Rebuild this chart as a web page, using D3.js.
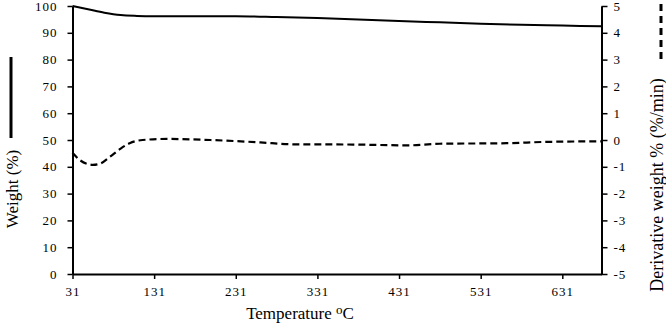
<!DOCTYPE html>
<html><head><meta charset="utf-8">
<script src="https://cdn.jsdelivr.net/npm/d3@7/dist/d3.min.js"></script>
<style>body{margin:0;background:#fff}svg{display:block}text{font-family:"Liberation Serif","Times New Roman",serif;fill:#000}</style>
</head><body><svg id="c" width="666" height="324"></svg>
<script>
const weightTemps = [31, 50, 70, 90, 110, 131, 181, 231, 281, 331, 381, 431, 481, 531, 581, 631, 679];
const weightValues = [100, 98.8, 97.5, 96.6, 96.3, 96.2, 96.2, 96.2, 95.9, 95.5, 95.0, 94.4, 93.9, 93.4, 93.0, 92.7, 92.4];
const derivTemps = [31, 40, 50, 56, 65, 77, 90, 101, 117, 147, 200, 261, 301, 375, 441, 481, 563, 612, 679];
const derivValues = [-0.48, -0.75, -0.9, -0.93, -0.88, -0.62, -0.32, -0.12, 0.0, 0.04, 0.0, -0.09, -0.16, -0.17, -0.2, -0.14, -0.12, -0.07, -0.05];
const xTicks = [31, 131, 231, 331, 431, 531, 631];
const leftTicks = [0, 10, 20, 30, 40, 50, 60, 70, 80, 90, 100];
const rightTicks = [-5, -4, -3, -2, -1, 0, 1, 2, 3, 4, 5];

const svg = d3.select("#c");
const L = 72.5, R = 601.5, T = 6, B = 274;
const x = d3.scaleLinear().domain([31, 679]).range([L, R]);
const yL = d3.scaleLinear().domain([0, 100]).range([B, T]);
const yR = d3.scaleLinear().domain([-5, 5]).range([B, T]);

const fmt = d => String(d);
const ax = svg.append("g").attr("transform", `translate(0,${B})`)
  .call(d3.axisBottom(x).tickValues(xTicks).tickSize(5).tickSizeOuter(0).tickFormat(fmt));
const al = svg.append("g").attr("transform", `translate(${L},0)`)
  .call(d3.axisLeft(yL).tickValues(leftTicks).tickSize(5).tickSizeOuter(0).tickPadding(10).tickFormat(fmt));
const ar = svg.append("g").attr("transform", `translate(${R},0)`)
  .call(d3.axisRight(yR).tickValues(rightTicks).tickSize(6).tickSizeOuter(0).tickPadding(6).tickFormat(fmt));
[ax, al, ar].forEach(g => {
  g.select(".domain").attr("stroke", "#000").attr("stroke-width", 2);
  g.selectAll(".tick line").attr("stroke", "#000").attr("stroke-width", 1.5);
  g.selectAll(".tick text").style("font-family", '"Liberation Serif", serif').style("font-size", "13px").style("letter-spacing", "1px").attr("fill", "#000");
});
ax.selectAll(".tick text").attr("dy", "1.05em");

const lineW = d3.line().x((d, i) => x(weightTemps[i])).y(d => yL(d)).curve(d3.curveMonotoneX);
svg.append("path").attr("d", lineW(weightValues)).attr("fill", "none").attr("stroke", "#000").attr("stroke-width", 2);
const lineD = d3.line().x((d, i) => x(derivTemps[i])).y(d => yR(d)).curve(d3.curveMonotoneX);
svg.append("path").attr("d", lineD(derivValues)).attr("fill", "none").attr("stroke", "#000").attr("stroke-width", 2.2).attr("stroke-dasharray", "7,4");

svg.append("text").attr("transform", "translate(18,189) rotate(-90)").attr("text-anchor", "middle").style("font-size", "17px").text("Weight (%)");
svg.append("line").attr("x1", 11).attr("x2", 11).attr("y1", 57).attr("y2", 138).attr("stroke", "#000").attr("stroke-width", 3);

svg.append("text").attr("transform", "translate(663,185) rotate(-90)").attr("text-anchor", "middle").style("font-size", "18px").text("Derivative weight % (%/min)");
svg.append("line").attr("x1", 661).attr("x2", 661).attr("y1", 4).attr("y2", 64).attr("stroke", "#000").attr("stroke-width", 3).attr("stroke-dasharray", "7,5");

const xt = svg.append("text").attr("x", 300).attr("y", 319).attr("text-anchor", "middle").style("font-size", "17px");
xt.append("tspan").text("Temperature  ");
xt.append("tspan").attr("dy", -5).style("font-size", "13px").text("o");
xt.append("tspan").attr("dy", 5).text("C");
</script></body></html>
